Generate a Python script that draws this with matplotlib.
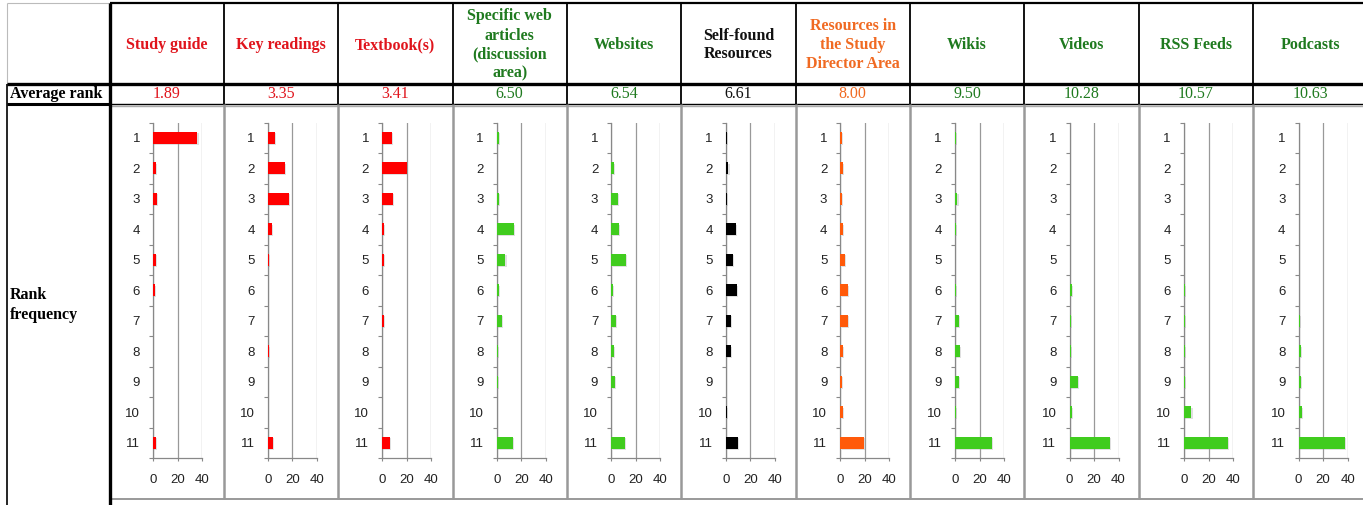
import matplotlib
matplotlib.use("Agg")
import matplotlib.pyplot as plt
import matplotlib.patheffects as pe
import numpy as np

# ---------------- data ----------------
categories = ["Study guide", "Key readings", "Textbook(s)",
              "Specific web\narticles\n(discussion\narea)", "Websites",
              "Self-found\nResources", "Resources in\nthe Study\nDirector Area",
              "Wikis", "Videos", "RSS Feeds", "Podcasts"]
avg_rank = [1.89, 3.35, 3.41, 6.50, 6.54, 6.61, 8.00, 9.50, 10.28, 10.57, 10.63]
rank_labels = [str(r) for r in range(1, 12)]
x_ticks = [0, 20, 40]

study_guide    = [36, 2, 3, 0, 2, 1, 0, 0, 0, 0, 2]
key_readings   = [6, 14, 17, 3, 1, 0, 0, 1, 0, 0, 4]
textbooks      = [8, 20, 9, 1, 1, 0, 1, 0, 0, 0, 6]
web_articles   = [2, 0, 2, 14, 7, 2, 4, 1, 1, 0, 13]
websites       = [0, 2, 5, 6, 12, 1, 4, 2, 3, 0, 11]
self_found     = [1, 2, 1, 8, 6, 9, 4, 4, 0, 1, 10]
study_director = [1, 2, 1, 2, 4, 6, 6, 2, 1, 2, 19]
wikis          = [1, 0, 2, 1, 0, 1, 3, 4, 3, 1, 30]
videos         = [0, 0, 0, 0, 0, 2, 1, 1, 7, 2, 33]
rss_feeds      = [0, 0, 0, 0, 0, 1, 1, 1, 1, 6, 36]
podcasts       = [0, 0, 0, 0, 0, 0, 1, 2, 2, 3, 38]

series = [study_guide, key_readings, textbooks, web_articles, websites,
          self_found, study_director, wikis, videos, rss_feeds, podcasts]

# styles
RED_T, GREEN_T, BLACK_T, ORANGE_T = "#E0141C", "#1F7A1F", "#111111", "#F06A22"
RED_B, GREEN_B, BLACK_B, ORANGE_B = "#FF0000", "#40CC1E", "#000000", "#FF5A0A"
text_colors = [RED_T, RED_T, RED_T, GREEN_T, GREEN_T, BLACK_T, ORANGE_T,
               GREEN_T, GREEN_T, GREEN_T, GREEN_T]
bar_colors = [RED_B, RED_B, RED_B, GREEN_B, GREEN_B, BLACK_B, ORANGE_B,
              GREEN_B, GREEN_B, GREEN_B, GREEN_B]

W, H = 1363, 505
fig = plt.figure(figsize=(W / 100, H / 100), dpi=100)
bg = fig.add_axes([0, 0, 1, 1])
bg.set_xlim(0, W)
bg.set_ylim(H, 0)
bg.axis("off")

serif = "Liberation Serif"
sans = "Liberation Sans"

n = len(categories)
bounds = [109.5 + 114.35 * i for i in range(n + 1)]
y_top, y_hdr, y_avg, y_bot = 3, 84, 103.5, 499

def hline(y, x0, x1, color="black", lw=1.0, z=5):
    bg.plot([x0, x1], [y, y], color=color, lw=lw, solid_capstyle="butt", zorder=z)

def vline(x, y0, y1, color="black", lw=1.0, z=5):
    bg.plot([x, x], [y0, y1], color=color, lw=lw, solid_capstyle="butt", zorder=z)

# header column borders
hline(y_top, 7, bounds[0], color="#bbbbbb", lw=0.8)
vline(7, y_top, y_hdr, color="#bbbbbb", lw=0.8)
vline(7, y_hdr, H, color="black", lw=1.2)
hline(y_avg, 7, bounds[0], color="black", lw=2.2)

# main grid lines
hline(y_top, bounds[0], W, lw=1.6)
hline(y_hdr, 7, W, lw=2.4)
hline(y_avg, bounds[0], W, lw=1.0)
vline(bounds[0], y_top, H, lw=2.4)
for b in bounds[1:]:
    vline(b, y_top, y_avg, lw=1.3)
    vline(b, y_avg, y_bot, color="#999999", lw=1.8)
# inner gray frames of chart cells
hline(y_avg + 2, bounds[0], W, color="#aaaaaa", lw=1.0, z=4)
hline(y_bot, bounds[0], W, color="#999999", lw=1.4, z=4)

# row labels
bg.text(10, (y_hdr + y_avg) / 2, "Average rank", family=serif, fontweight="bold",
        fontsize=11.5, ha="left", va="center", color="black")
bg.text(10, 305, "Rank\nfrequency", family=serif, fontweight="bold",
        fontsize=11.5, ha="left", va="center", color="black", linespacing=1.3)

zero_x0, zero_dx = 153.3, 114.53
px40 = 49.0
ax_top, ax_bot = 122.5, 458.0

for i in range(n):
    cx = (bounds[i] + bounds[i + 1]) / 2
    bg.text(cx, (y_top + y_hdr) / 2 + 1.5, categories[i], family=serif, fontweight="bold",
            fontsize=11.5, ha="center", va="center", color=text_colors[i],
            linespacing=1.25, multialignment="center")
    bg.text(cx, (y_hdr + y_avg) / 2 + 0.5, f"{avg_rank[i]:.2f}", family=serif,
            fontsize=11.5, ha="center", va="center", color=text_colors[i])

    zx = zero_x0 + zero_dx * i
    ax = fig.add_axes([zx / W, (H - ax_bot) / H, px40 / W, (ax_bot - ax_top) / H])
    ypos = np.arange(1, 12)
    bars = ax.barh(ypos, series[i], height=0.38, color=bar_colors[i], zorder=3)
    for bar in bars:
        bar.set_path_effects([pe.SimplePatchShadow(offset=(0.8, -0.8), shadow_rgbFace="#999999", alpha=0.3),
                              pe.Normal()])
    ax.set_xlim(0, 40)
    ax.set_ylim(11.5, 0.5)
    ax.set_xticks(x_ticks)
    ax.set_xticklabels([str(t) for t in x_ticks], family=sans, fontsize=9.5, color="#222222")
    ax.set_yticks(ypos)
    ax.set_yticklabels(rank_labels, family=sans, fontsize=9.5, color="#222222")
    ax.set_yticks(np.arange(0.5, 12, 1), minor=True)
    ax.tick_params(axis="y", which="major", length=0, pad=9.5)
    ax.tick_params(axis="y", which="minor", length=3, width=0.8, color="#888888", direction="out")
    ax.tick_params(axis="x", which="major", length=2.5, width=0.8, color="#888888", pad=9)
    ax.grid(axis="x", color="#999999", lw=0.9, zorder=0)
    for s in ["top", "right"]:
        ax.spines[s].set_visible(False)
    for s in ["left", "bottom"]:
        ax.spines[s].set_color("#888888")
        ax.spines[s].set_linewidth(0.9)
    ax.set_facecolor("none")
    ax.set_axisbelow(True)

fig.savefig("out.png", dpi=100)
